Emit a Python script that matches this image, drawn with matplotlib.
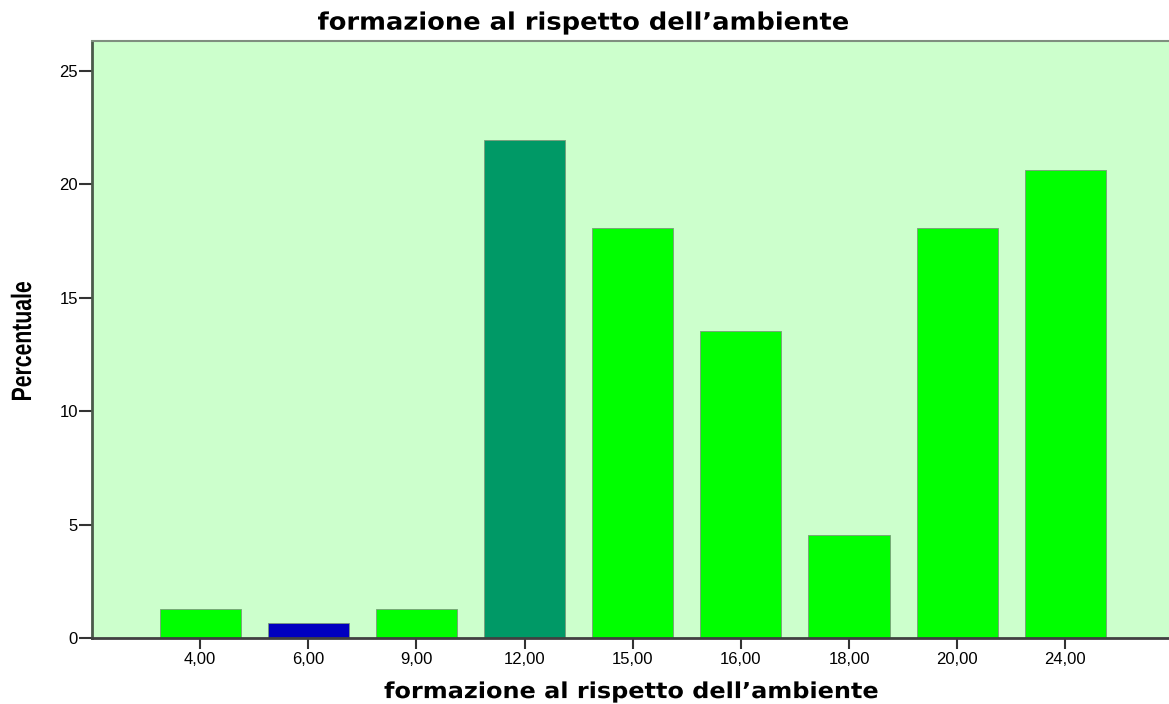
import matplotlib
matplotlib.use("Agg")
import matplotlib.pyplot as plt
from matplotlib.textpath import TextPath
from matplotlib.patches import PathPatch
from matplotlib.font_manager import FontProperties
from matplotlib.transforms import Affine2D, IdentityTransform

categories = ["4,00", "6,00", "9,00", "12,00", "15,00", "16,00", "18,00", "20,00", "24,00"]
percent = [1.29, 0.65, 1.29, 21.94, 18.06, 13.55, 4.52, 18.06, 20.65]
bar_colors = ["#00ff00", "#0000c0", "#00ff00", "#009966", "#00ff00",
              "#00ff00", "#00ff00", "#00ff00", "#00ff00"]
y_ticks = [0, 5, 10, 15, 20, 25]

title = "formazione al rispetto dell\u2019ambiente"
y_title = "Percentuale"

W, H = 1169, 704


def stretched_text(fig, s, cx, cy, size_px, width_px, prop, rotate=0):
    '''
    Draws text as a path, stretched or squeezed along its direction
    so its ink has the given length. cx, cy are pixels from top-left.
    '''
    tp = TextPath((0, 0), s, size=size_px, prop=prop)
    bb = tp.get_extents()
    sx = width_px / bb.width
    tr = (Affine2D()
          .translate(-(bb.x0 + bb.x1) / 2, -(bb.y0 + bb.y1) / 2)
          .scale(sx, 1)
          .rotate_deg(rotate)
          .translate(cx, H - cy))
    patch = PathPatch(tr.transform_path(tp), facecolor="black", lw=0,
                      transform=IdentityTransform())
    fig.add_artist(patch)


def main():
    fig = plt.figure(figsize=(W / 100, H / 100), dpi=100)
    ax = fig.add_axes([92 / W, 1 - 638 / H, 1 - 92 / W + 0.002, (638 - 41) / H])
    ax.set_facecolor("#ccffcc")

    x = list(range(len(categories)))
    ax.bar(x, percent, width=0.75, color=bar_colors, edgecolor="#7a9a7a", linewidth=0.6)

    ax.set_xlim(-1, 8.98)
    ax.set_ylim(0, 26.32)
    ax.set_xticks(x)
    ax.set_xticklabels(categories, fontsize=12, family="Liberation Sans")
    ax.set_yticks(y_ticks)
    ax.set_yticklabels([str(v) for v in y_ticks], fontsize=12, family="Liberation Sans")
    ax.tick_params(axis="x", length=8, width=1.5, color="#333333", pad=2)
    ax.tick_params(axis="y", length=9.5, width=1.5, color="#333333", pad=0.5)

    ax.spines["left"].set_color("#4a5a4a")
    ax.spines["left"].set_linewidth(2)
    ax.spines["bottom"].set_color("#404040")
    ax.spines["bottom"].set_linewidth(2)
    ax.spines["top"].set_color("#7f8f7f")
    ax.spines["top"].set_linewidth(1.5)
    ax.spines["right"].set_visible(False)

    bold = FontProperties(family="DejaVu Sans", weight="bold")
    bold_arial = FontProperties(family="Liberation Sans", weight="bold")
    stretched_text(fig, title, 583, 23, 24, 530, bold)
    stretched_text(fig, title, 631, 692, 22, 493, bold)
    stretched_text(fig, y_title, 21, 341, 28, 118, bold_arial, rotate=90)

    fig.savefig("out.png", dpi=100)


if __name__ == "__main__":
    main()
